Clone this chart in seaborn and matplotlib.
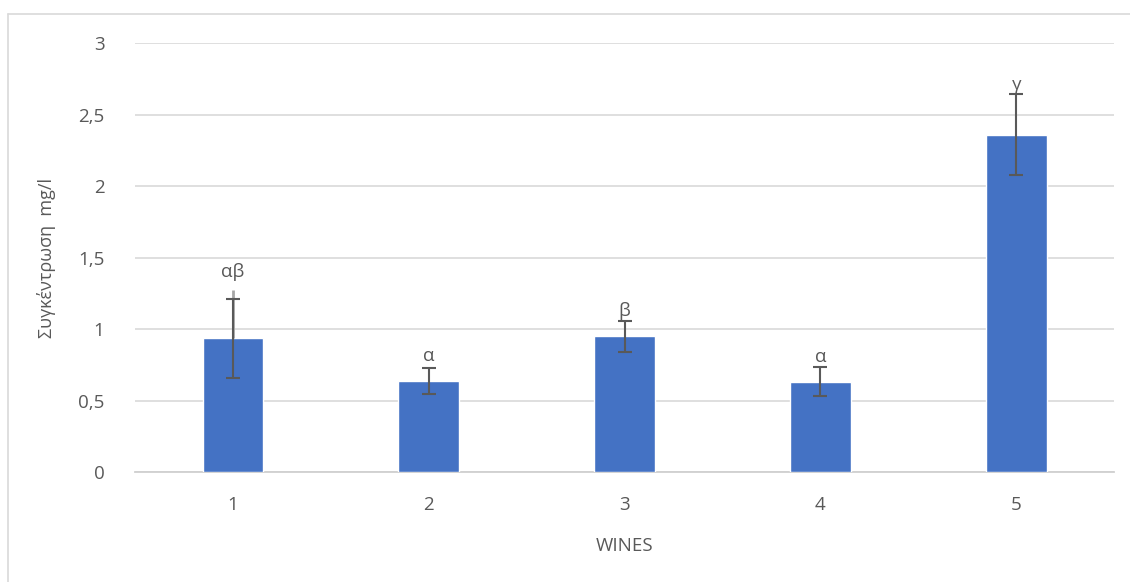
import numpy as np
import pandas as pd
import matplotlib
matplotlib.use("Agg")
import matplotlib.pyplot as plt
import seaborn as sns

# values
wines = ["1", "2", "3", "4", "5"]
means = [0.935, 0.638, 0.948, 0.632, 2.360]
errs = [0.275, 0.090, 0.110, 0.100, 0.283]
letters = ["αβ", "α", "β", "α", "γ"]
letter_y = [1.40, 0.81, 1.125, 0.805, 2.705]
# faint extra whisker drawn above wine 1 in the original
extra_top = 1.27

df = pd.DataFrame({"WINES": wines, "conc": means})

sns.set_theme(style="white")
plt.rcParams['font.family'] = ['Open Sans', 'DejaVu Sans']
txt = "#595959"

fig = plt.figure(figsize=(11.30, 5.82), dpi=100)
ax = fig.add_axes([0.1195, 0.189, 0.8665, 0.737])

sns.barplot(data=df, x="WINES", y="conc", color="#4472C4", width=0.31,
            saturation=1, ax=ax, zorder=3)
ax.vlines(0, means[0], extra_top, color="#a6a6a6", lw=2, zorder=3.5)
ax.errorbar(np.arange(len(wines)), means, yerr=errs, fmt="none",
            ecolor="#595959", elinewidth=1.5, capsize=4.7, capthick=1.5, zorder=4)

for i, (lab, yy) in enumerate(zip(letters, letter_y)):
    ax.text(i, yy, lab, ha="center", va="center", fontsize=13.5, color=txt, zorder=5)

ax.set_ylim(0, 3)
ax.set_xlim(-0.5, 4.5)
ax.set_yticks([0, 0.5, 1, 1.5, 2, 2.5, 3])
ax.set_yticklabels(["0", "0,5", "1", "1,5", "2", "2,5", "3"])
ax.yaxis.grid(True, color="#d9d9d9", linewidth=1.2, zorder=0)
ax.set_axisbelow(True)
for s in ["top", "right", "left"]:
    ax.spines[s].set_visible(False)
ax.spines["bottom"].set_color("#d0d0d0")
ax.spines["bottom"].set_linewidth(1.3)
ax.tick_params(axis="both", length=0, labelsize=13.5, labelcolor=txt)
ax.tick_params(axis="y", pad=22)
ax.tick_params(axis="x", pad=17)

ax.set_xlabel("WINES", fontsize=13.5, color=txt, labelpad=17)
ax.set_ylabel("Συγκέντρωση  mg/l", fontsize=13, color=txt, labelpad=16)

# light chart-area frame, top and left edges visible
fig.add_artist(plt.Line2D([8 / 1130, 1], [1 - 14 / 582, 1 - 14 / 582],
                          transform=fig.transFigure, color="#d9d9d9", lw=1.2))
fig.add_artist(plt.Line2D([8 / 1130, 8 / 1130], [0, 1 - 14 / 582],
                          transform=fig.transFigure, color="#d9d9d9", lw=1.2))

fig.savefig("out.png", dpi=100)
